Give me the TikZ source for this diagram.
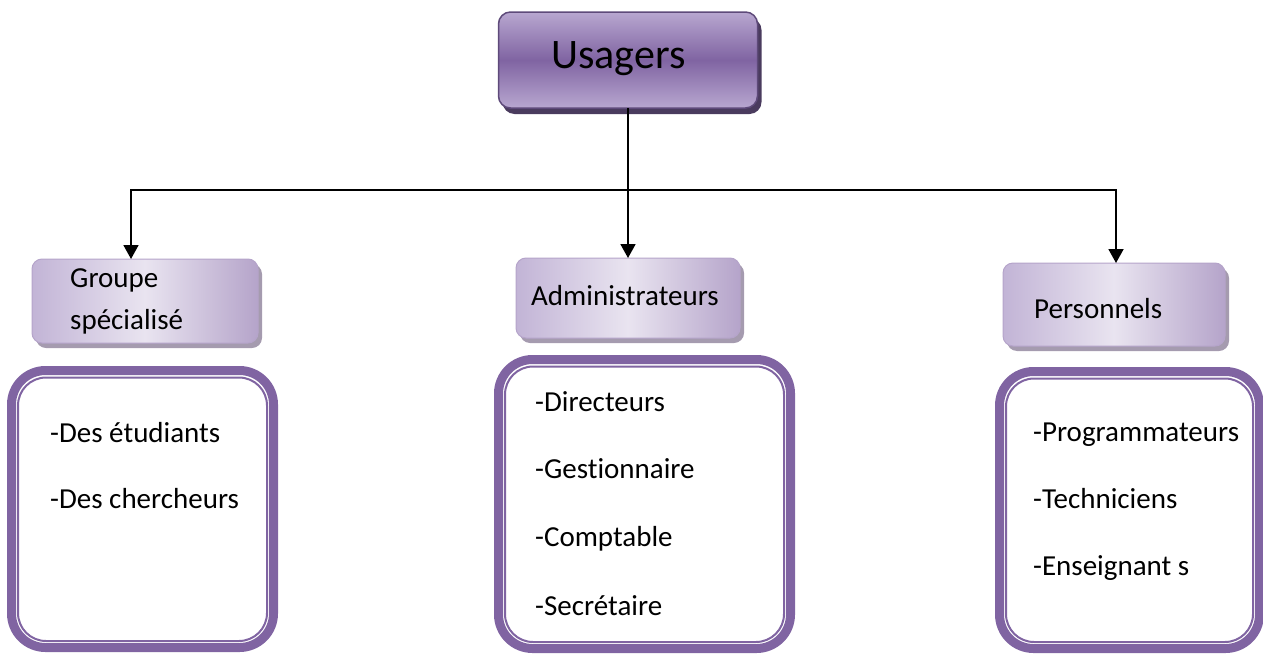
\documentclass[tikz,border=0pt]{standalone}
\usepackage{fontspec}
\setmainfont{Carlito}[Ligatures=NoCommon]
\usetikzlibrary{shadows,arrows.meta,calc}
\definecolor{vio}{HTML}{8064A2}
\definecolor{violight}{HTML}{B8A7D0}
\definecolor{viodark}{HTML}{5E4A7A}
\definecolor{vioshadow}{HTML}{4A3B5E}
\definecolor{lavA}{HTML}{C2B4D6}
\definecolor{lavB}{HTML}{E9E4F0}
\definecolor{lavC}{HTML}{B5A4CA}
\definecolor{lavshadow}{HTML}{A59BAF}
\tikzset{
  topbox/.style={rounded corners=12pt, draw=viodark, line width=1.5pt,
    top color=violight, bottom color=violight, middle color=vio,
    minimum width=259pt, minimum height=96pt, inner sep=0pt, outer sep=0pt,
    drop shadow={shadow xshift=4pt, shadow yshift=-6pt, fill=vioshadow, opacity=1}},
  catbox/.style={rounded corners=10pt, draw=lavC, line width=1pt,
    left color=lavA, right color=lavC, middle color=lavB,
    inner sep=0pt, outer sep=0pt,
    drop shadow={shadow xshift=4pt, shadow yshift=-5pt, fill=lavshadow, opacity=1}},
  listbox/.style={rounded corners=34pt, draw=vio, line width=9pt, fill=white,
    inner sep=0pt, outer sep=0pt},
  innerline/.style={rounded corners=28pt, draw=vio, line width=2pt},
  lbl/.style={anchor=base west, inner sep=0pt, font=\fontsize{29}{35}\selectfont},
  bigl/.style={anchor=base west, inner sep=0pt, font=\fontsize{42}{50}\selectfont},
  conn/.style={line width=1.8pt, black},
  arr/.style={conn, -{Triangle[width=15pt,length=14pt]}}
}
\begin{document}
\begin{tikzpicture}[x=1pt,y=-1pt]
\useasboundingbox (0,0) rectangle (1263,653);
% top box
\node[topbox] (U) at (628,60) {};
\node[bigl] (tU) at (551,68) {Usagers};
% category boxes
\node[catbox, minimum width=226pt, minimum height=84pt] (G) at (145,301) {};
\node[lbl] (tG1) at (70,287) {Groupe};
\node[lbl] (tG2) at (70,329) {spécialisé};
\node[catbox, minimum width=224pt, minimum height=80pt] (A) at (628,298) {};
\node[lbl] (tA) at (531,305) {Administrateurs};
\node[catbox, minimum width=222pt, minimum height=83pt] (P) at (1114,304.5) {};
\node[lbl] (tP) at (1034,318) {Personnels};
% junctions
\coordinate (jl) at (131,190);
\coordinate (jr) at (1116,190);
\draw[arr] (U.south) |- (jl) -- (jl |- G.north);
\draw[arr] (U.south) -- (A.north);
\draw[arr] (U.south) |- (jr) -- (jr |- P.north);
% list boxes
\node[listbox, minimum width=262pt, minimum height=277pt] (L1) at (142.5,509) {};
\draw[innerline] ($(L1.north west)+(6.5,7)$) rectangle ($(L1.south east)+(-6.5,-6.5)$);
\node[listbox, minimum width=292pt, minimum height=289pt] (L2) at (644.5,504) {};
\draw[innerline] ($(L2.north west)+(6.5,7)$) rectangle ($(L2.south east)+(-6.5,-6.5)$);
\node[listbox, minimum width=260pt, minimum height=277pt] (L3) at (1129.5,510) {};
\draw[innerline] ($(L3.north west)+(6.5,7)$) rectangle ($(L3.south east)+(-6.5,-6.5)$);
% list texts
\node[lbl] (a1) at (50,442) {-Des étudiants};
\node[lbl] (a2) at (50,508) {-Des chercheurs};
\node[lbl] (b1) at (535,411) {-Directeurs};
\node[lbl] (b2) at (535,478) {-Gestionnaire};
\node[lbl] (b3) at (535,546) {-Comptable};
\node[lbl] (b4) at (535,615) {-Secrétaire};
\node[lbl] (c1) at (1033,441) {-Programmateurs};
\node[lbl] (c2) at (1033,508) {-Techniciens};
\node[lbl] (c3) at (1033,575) {-Enseignant s};
\end{tikzpicture}
\end{document}
